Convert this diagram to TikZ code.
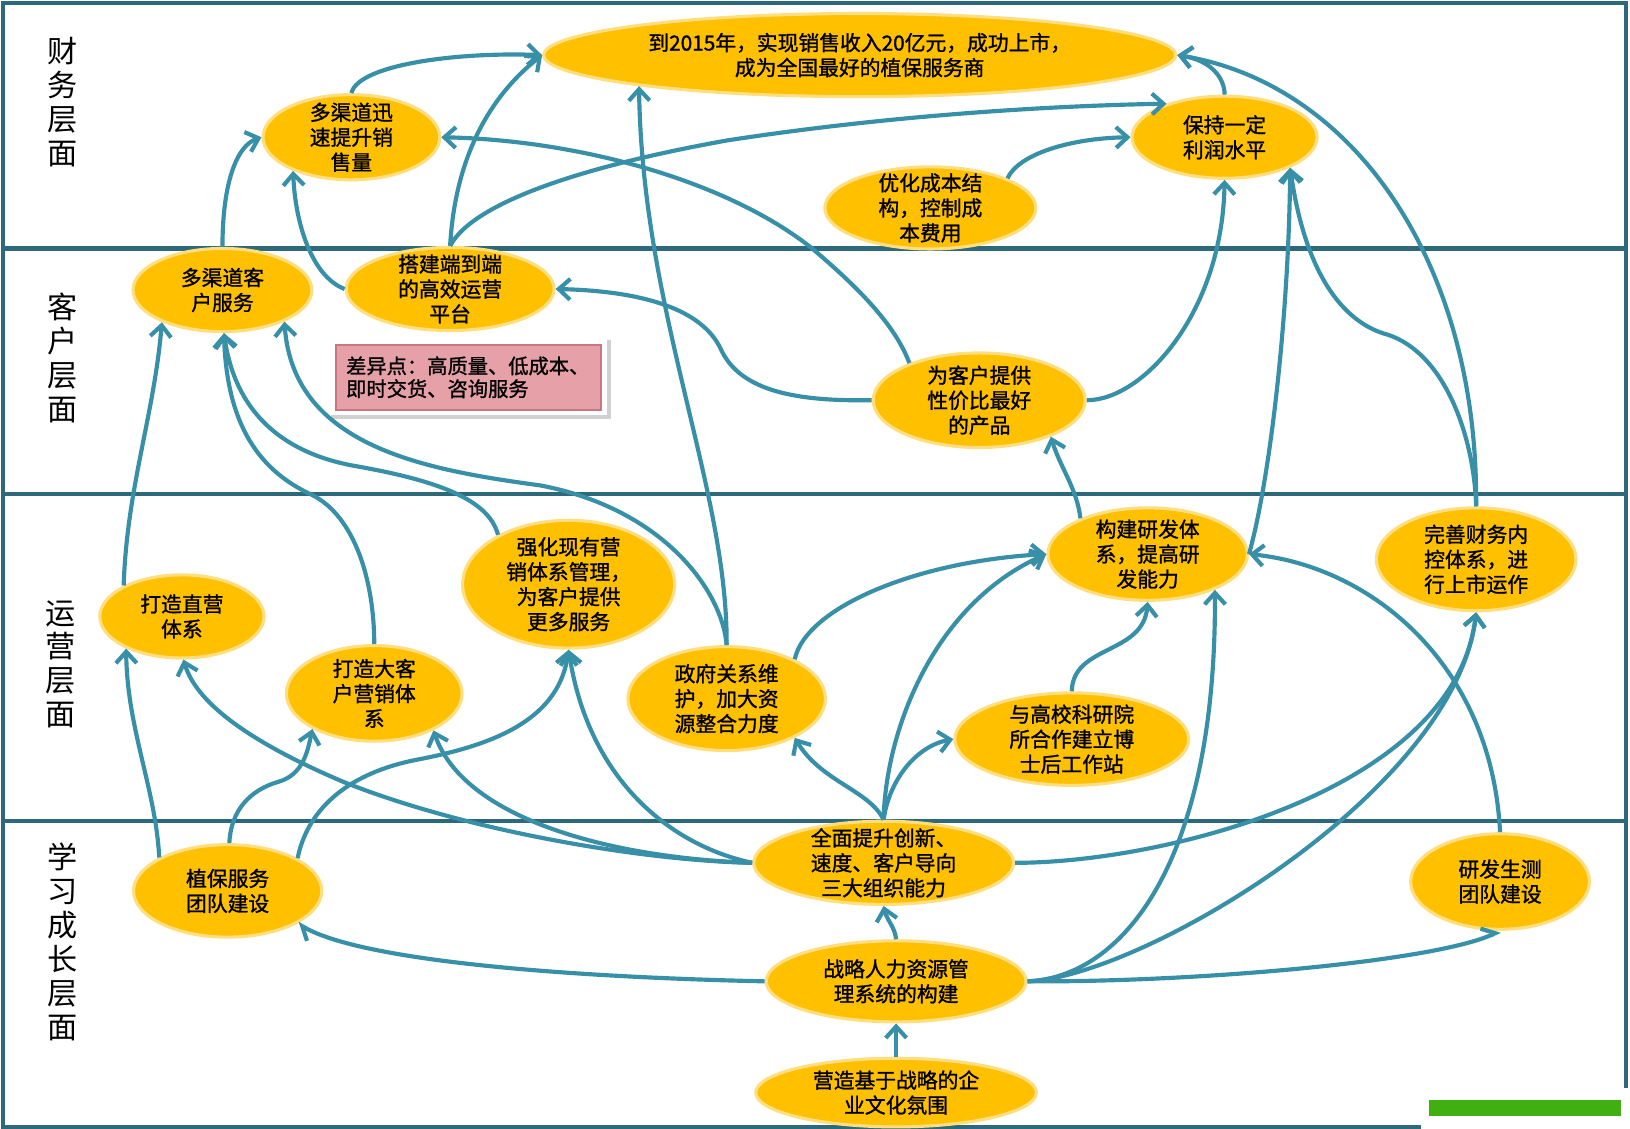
\documentclass[tikz,border=0pt]{standalone}
\usepackage{fontspec}
\newfontfamily\cjk{Noto Sans CJK SC}
\newfontfamily\cjkb[FakeBold=1.2]{Noto Sans CJK SC}
\usetikzlibrary{shapes.geometric,arrows.meta,shadows}

\definecolor{laneline}{RGB}{45,105,122}
\definecolor{flowline}{RGB}{56,144,168}
\definecolor{ovalfill}{RGB}{255,192,0}
\definecolor{ovaledge}{RGB}{255,222,128}
\definecolor{notefill}{RGB}{230,160,168}
\definecolor{noteedge}{RGB}{200,118,128}
\definecolor{markgreen}{RGB}{64,176,16}

\tikzset{
  oval/.style 2 args={ellipse, fill=ovalfill, draw=ovaledge, line width=3pt,
    inner sep=0pt, minimum width=#1pt, minimum height=#2pt},
  txt/.style={font=\cjkb\fontsize{20}{24}\selectfont, align=center, inner sep=0pt},
  lanetxt/.style={font=\cjk\fontsize{29}{32.6}\selectfont, align=center, inner sep=0pt},
  notebox/.style={rectangle, fill=notefill, draw=noteedge, line width=2pt,
    font=\cjkb\fontsize{19.5}{22}\selectfont, align=left, text width=236pt, inner sep=0pt,
    drop shadow={shadow xshift=2pt, shadow yshift=-2pt, fill=black!40, draw=black!40,
      line width=14pt, opacity=.45},
    preaction={draw=white, line width=10pt}},
  flow/.style={draw=flowline, line width=4pt, -{Straight Barb[length=11pt,width=20pt]}},
  halfflow/.style={draw=flowline, line width=4pt, -{Straight Barb[length=11pt,width=20pt,left]}},
}

\begin{document}
\begin{tikzpicture}[x=1pt,y=-1pt]
  \useasboundingbox (0,0) rectangle (1568,1086);

  % frame and lanes
  \draw[laneline, line width=4pt] (1564,1047) -- (1564,2.5) -- (2.5,2.5) -- (2.5,1084) -- (1367,1084);
  \foreach \y in {239,475,790}
    \draw[laneline, line width=4pt] (2.5,\y) -- (1564,\y);
  \fill[markgreen] (1375,1058) rectangle (1559,1074);

  \node[lanetxt] (lane1) at (60,98)  {财\\务\\层\\面};
  \node[lanetxt] (lane2) at (60,344) {客\\户\\层\\面};
  \node[lanetxt] (lane3) at (58,639) {运\\营\\层\\面};
  \node[lanetxt] (lane4) at (60,906) {学\\习\\成\\长\\层\\面};

  % finance
  \node[oval={608}{80}, label={[txt]center:{到2015年，实现销售收入20亿元，成功上市，\\成为全国最好的植保服务商}}] (target) at (827,53) {};
  \node[oval={170}{82}, label={[txt]center:{多渠道迅\\速提升销\\售量}}] (sales) at (338,132) {};
  \node[oval={178}{79}, label={[txt]center:{保持一定\\利润水平}}] (profit) at (1178,132) {};
  \node[oval={203}{79}, label={[txt]center:{优化成本结\\构，控制成\\本费用}}] (cost) at (895,200) {};

  % customer
  \node[oval={172}{80}, label={[txt]center:{多渠道客\\户服务}}] (service) at (214,279) {};
  \node[oval={200}{80}, label={[txt]center:{搭建端到端\\的高效运营\\平台}}] (platform) at (433,278) {};
  \node[notebox, minimum width=255pt, minimum height=62pt] (diff) at (451,363) {差异点：高质量、低成本、\\即时交货、咨询服务};
  \node[oval={204}{91}, label={[txt]center:{为客户提供\\性价比最好\\的产品}}] (product) at (942,385) {};

  % operations
  \node[oval={158}{80}, label={[txt]center:{打造直营\\体系}}] (direct) at (175,593) {};
  \node[oval={204}{123}, label={[txt]center:{强化现有营\\销体系管理，\\为客户提供\\更多服务}}] (market) at (547,562) {};
  \node[oval={169}{92}, label={[txt]center:{打造大客\\户营销体\\系}}] (keyacc) at (360,667) {};
  \node[oval={190}{100}, label={[txt]center:{政府关系维\\护，加大资\\源整合力度}}] (gov) at (699,672) {};
  \node[oval={192}{89}, label={[txt]center:{构建研发体\\系，提高研\\发能力}}] (rnd) at (1104,533) {};
  \node[oval={192}{99}, label={[txt]center:{完善财务内\\控体系，进\\行上市运作}}] (control) at (1420,538) {};
  \node[oval={225}{89}, label={[txt]center:{与高校科研院\\所合作建立博\\士后工作站}}] (postdoc) at (1031,711) {};

  % learning and growth
  \node[oval={250}{80}, label={[txt]center:{全面提升创新、\\速度、客户导向\\三大组织能力}}] (ability) at (850,830) {};
  \node[oval={181}{89}, label={[txt]center:{植保服务\\团队建设}}] (plantteam) at (219,857) {};
  \node[oval={172}{92}, label={[txt]center:{研发生测\\团队建设}}] (rndteam) at (1443,848) {};
  \node[oval={250}{78}, label={[txt]center:{战略人力资源管\\理系统的构建}}] (hr) at (862,944) {};
  \node[oval={270}{66}, label={[txt]center:{营造基于战略的企\\业文化氛围}}] (culture) at (862,1051) {};

  % links into finance
  \draw[flow] (sales.north) .. controls (345,62) and (440,50) .. (target.west);
  \draw[flow] (platform.north) .. controls (437,165) and (462,100) .. (target.west);
  \draw[flow] (platform.north) .. controls (455,195) and (560,160) .. (700,135)
    .. controls (850,112) and (1000,102) .. (profit.150);
  \draw[flow] (cost.21) .. controls (980,148) and (1030,133) .. (profit.west);
  \draw[flow] (profit.north) .. controls (1178,75) and (1165,58) .. (target.east);
  \draw[flow] (control.north) .. controls (1422,250) and (1300,80) .. (target.east);
  \draw[flow] (control.north) .. controls (1418,420) and (1390,340) .. (1335,322)
    .. controls (1290,310) and (1255,260) .. (profit.-25);
  \draw[flow] (rnd.east) .. controls (1222,460) and (1240,300) .. (profit.-25);
  \draw[flow] (service.north) .. controls (214,175) and (228,140) .. (sales.west);
  \draw[flow] (platform.west) .. controls (300,266) and (284,215) .. (sales.210);
  \draw[flow] (product.152) .. controls (862,315) and (830,280) .. (780,238)
    .. controls (700,175) and (560,135) .. (sales.east);
  \draw[flow] (product.east) .. controls (1100,385) and (1176,300) .. (profit.south);
  \draw[flow] (gov.north) .. controls (700,470) and (618,300) .. (target.188);

  % links into customer
  \draw[flow] (product.west) .. controls (770,386) and (712,378) .. (693,335)
    .. controls (675,298) and (620,280) .. (platform.east);
  \draw[flow] (gov.north) .. controls (695,570) and (640,490) .. (520,467)
    .. controls (410,452) and (282,430) .. (service.-27);
  \draw[flow] (direct.152) .. controls (122,470) and (148,400) .. (service.-152);
  \draw[flow] (keyacc.north) .. controls (360,560) and (342,497) .. (300,476)
    .. controls (243,450) and (218,400) .. (service.-88);
  \draw[flow] (market.145) .. controls (470,480) and (420,462) .. (340,448)
    .. controls (270,435) and (226,395) .. (service.-88);
  \draw[flow] (rnd.152) .. controls (1036,470) and (1020,450) .. (product.-27);

  % links into operations
  \draw[flow] (plantteam.154) .. controls (150,760) and (122,700) .. (direct.-150);
  \draw[flow] (plantteam.88) .. controls (222,780) and (240,760) .. (268,752)
    .. controls (292,745) and (296,722) .. (keyacc.-150);
  \draw[flow] (plantteam.25) .. controls (295,782) and (330,745) .. (400,731)
    .. controls (480,716) and (538,690) .. (market.south);
  \draw[flow] (ability.west) .. controls (620,828) and (450,800) .. (330,752)
    .. controls (250,718) and (190,680) .. (direct.-88);
  \draw[flow] (ability.west) .. controls (580,825) and (445,785) .. (keyacc.-32);
  \draw[flow] (ability.west) .. controls (640,812) and (565,745) .. (market.south);
  \draw[flow] (ability.north) .. controls (836,760) and (790,752) .. (gov.-30);
  \draw[flow] (ability.north) .. controls (855,752) and (880,718) .. (postdoc.west);
  \draw[flow] (ability.north) .. controls (852,700) and (900,580) .. (rnd.west);
  \draw[flow] (gov.30) .. controls (775,585) and (880,540) .. (rnd.west);
  \draw[flow] (postdoc.north) .. controls (1032,620) and (1100,630) .. (rnd.south);
  \draw[flow] (ability.east) .. controls (1120,830) and (1400,760) .. (control.south);
  \draw[flow] (hr.east) .. controls (1100,940) and (1400,760) .. (control.south);
  \draw[flow] (hr.east) .. controls (1080,940) and (1170,830) .. (rnd.-28);
  \draw[flow] (rndteam.north) .. controls (1435,640) and (1320,545) .. (rnd.east);

  % links inside learning and growth
  \draw[halfflow] (hr.east) .. controls (1150,945) and (1380,925) .. (rndteam.south);
  \draw[halfflow] (hr.west) .. controls (550,940) and (350,925) .. (plantteam.-25);
  \draw[flow] (hr.north) .. controls (861,892) and (853,885) .. (ability.south);
  \draw[flow] (culture.north) -- (hr.south);
\end{tikzpicture}
\end{document}
